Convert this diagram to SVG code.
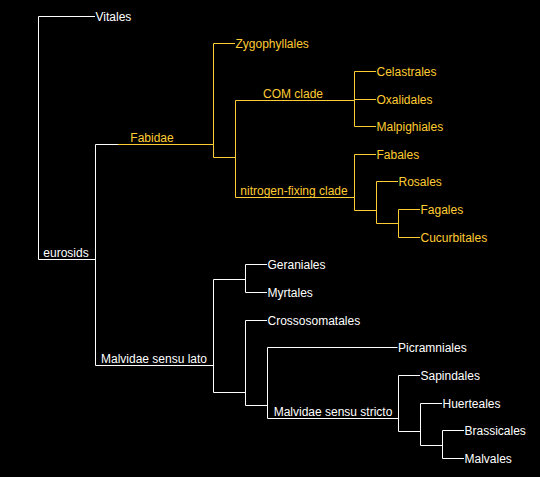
<svg xmlns="http://www.w3.org/2000/svg" width="540" height="477" viewBox="0 0 540 477">
<style>
.w{stroke:#fff;fill:none;stroke-width:1}
.y{stroke:#ffcc33;fill:none;stroke-width:1}
text{font-family:"Liberation Sans",Arial,sans-serif;font-size:12px}
.tw{fill:#fff}
.ty{fill:#ffcc33}
.c{text-anchor:middle}
</style>
<rect x="0" y="0" width="540" height="477" fill="#000"/>
<g id="connectors">
<path class="w" d="M95,16.5H38.5V259.5H95.5"/>
<path class="w" d="M118,144.5H95.5V365.5H213.5"/>
<path class="y" d="M118,144.5H213.5"/>
<path class="y" d="M235,43.5H213.5V157.5H235.5"/>
<path class="y" d="M354.5,100.5H235.5V197.5H354.5"/>
<path class="y" d="M376,71.5H354.5V126.5H376M354.5,99.5H376"/>
<path class="y" d="M376,154.5H354.5V210.5H376.5"/>
<path class="y" d="M398,181.5H376.5V223.5H398.5"/>
<path class="y" d="M420,209.5H398.5V237.5H420"/>
<path class="w" d="M245.5,279.5H213.5V392.5H245.5"/>
<path class="w" d="M267,264.5H245.5V292.5H267"/>
<path class="w" d="M267,320.5H245.5V405.5H267.5"/>
<path class="w" d="M397.5,347.5H267.5V418.5H398.5"/>
<path class="w" d="M420,375.5H398.5V431.5H420.5"/>
<path class="w" d="M442,403.5H420.5V445.5H442.5"/>
<path class="w" d="M464,430.5H442.5V458.5H464"/>
</g>
<g id="n-vitales"><text class="tw" x="95.5" y="20.5">Vitales</text></g>
<g id="n-eurosids"><text class="tw c" x="66" y="257">eurosids</text></g>
<g id="n-fabidae"><text class="ty c" x="152" y="142">Fabidae</text></g>
<g id="n-zygophyllales"><text class="ty" x="235.5" y="47.5">Zygophyllales</text></g>
<g id="n-com"><text class="ty c" x="293" y="98">COM clade</text></g>
<g id="n-celastrales"><text class="ty" x="376.5" y="75.5">Celastrales</text></g>
<g id="n-oxalidales"><text class="ty" x="376.5" y="103.5">Oxalidales</text></g>
<g id="n-malpighiales"><text class="ty" x="376.5" y="130.5">Malpighiales</text></g>
<g id="n-nfc"><text class="ty c" x="294" y="195">nitrogen-fixing clade</text></g>
<g id="n-fabales"><text class="ty" x="376.5" y="158.5">Fabales</text></g>
<g id="n-rosales"><text class="ty" x="398.5" y="185.5">Rosales</text></g>
<g id="n-fagales"><text class="ty" x="420.5" y="213.5">Fagales</text></g>
<g id="n-cucurbitales"><text class="ty" x="420.5" y="241.5">Cucurbitales</text></g>
<g id="n-malvidae-sl"><text class="tw c" x="154" y="363">Malvidae sensu lato</text></g>
<g id="n-geraniales"><text class="tw" x="267.5" y="268.5">Geraniales</text></g>
<g id="n-myrtales"><text class="tw" x="267.5" y="296.5">Myrtales</text></g>
<g id="n-crossosomatales"><text class="tw" x="267.5" y="324.5">Crossosomatales</text></g>
<g id="n-picramniales"><text class="tw" x="398" y="351.5">Picramniales</text></g>
<g id="n-malvidae-ss"><text class="tw c" x="333" y="416">Malvidae sensu stricto</text></g>
<g id="n-sapindales"><text class="tw" x="420.5" y="379.5">Sapindales</text></g>
<g id="n-huerteales"><text class="tw" x="442.5" y="407.5">Huerteales</text></g>
<g id="n-brassicales"><text class="tw" x="464.5" y="434.5">Brassicales</text></g>
<g id="n-malvales"><text class="tw" x="464.5" y="462.5">Malvales</text></g>
</svg>
